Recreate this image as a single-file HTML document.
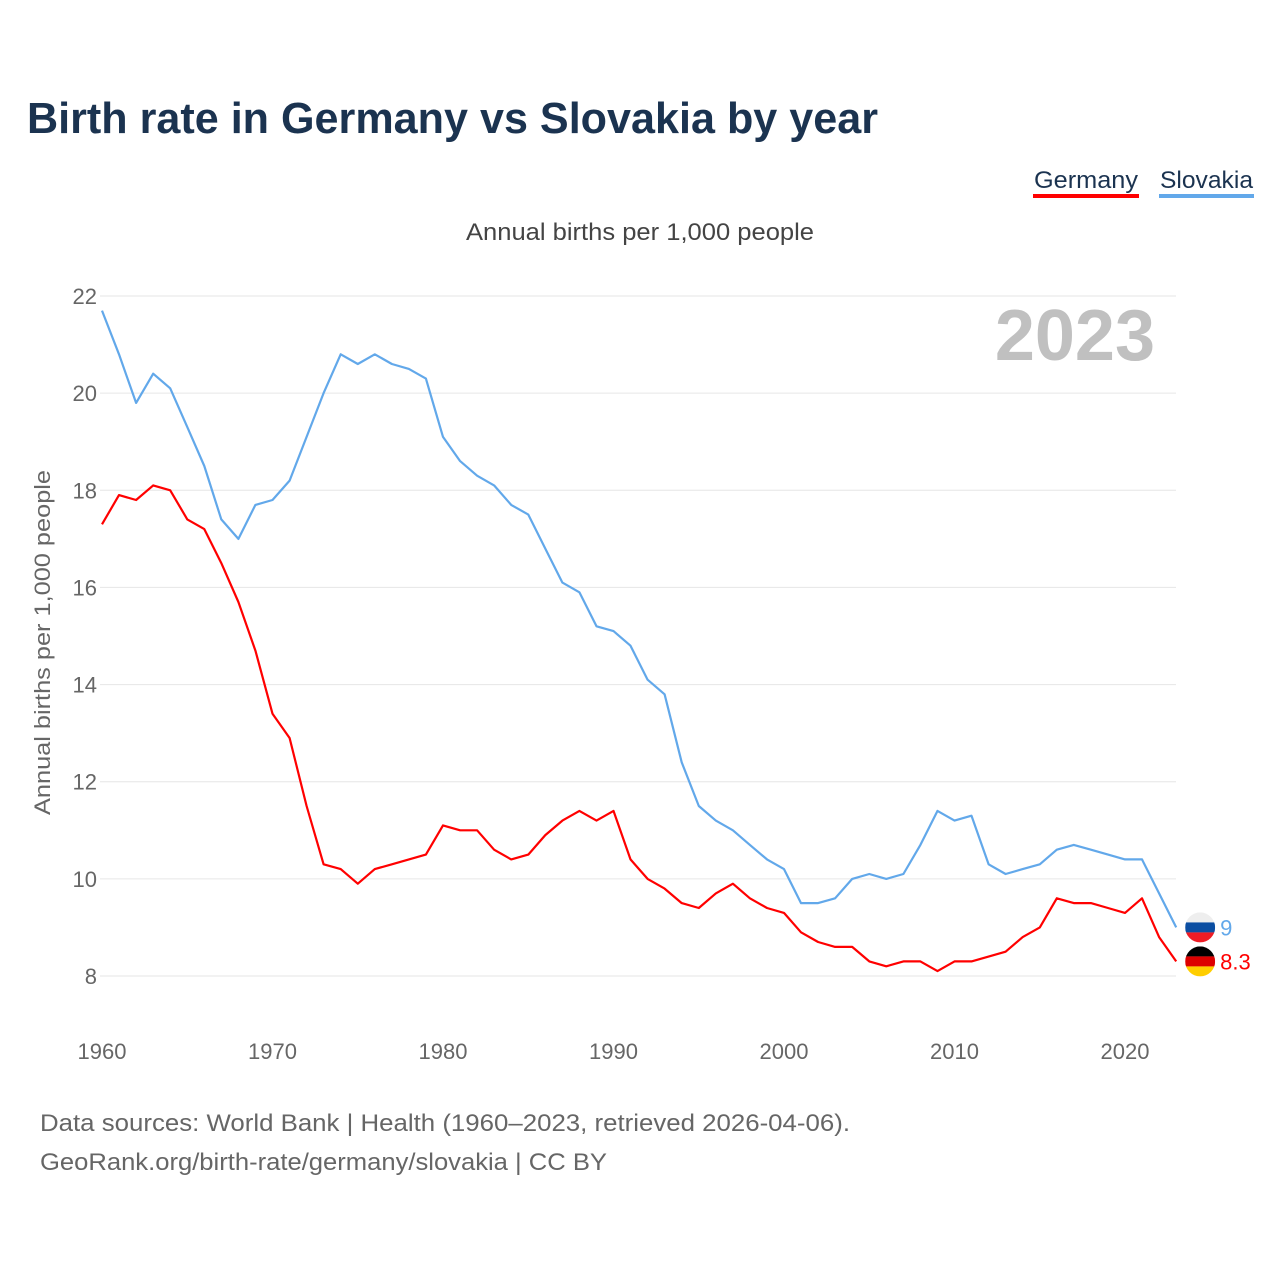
<!DOCTYPE html>
<html><head><meta charset="utf-8">
<style>
body{margin:0;background:#fff;width:1280px;height:1280px;overflow:hidden;font-family:"Liberation Sans",sans-serif}
</style></head>
<body>
<svg id="chart" width="1280" height="1280" xmlns="http://www.w3.org/2000/svg">
<text x="27" y="133" font-size="44" font-weight="bold" fill="#1b3350" textLength="851" lengthAdjust="spacingAndGlyphs">Birth rate in Germany vs Slovakia by year</text>
<g>
<text x="1034" y="188" font-size="24" fill="#1b3350" textLength="104" lengthAdjust="spacingAndGlyphs">Germany</text>
<rect x="1033" y="194" width="106" height="4" fill="#ff0000"/></g>
<g>
<text x="1160" y="188" font-size="24" fill="#1b3350" textLength="93" lengthAdjust="spacingAndGlyphs">Slovakia</text>
<rect x="1159" y="194" width="95" height="4" fill="#62a8ea"/></g>
<text x="466" y="240" font-size="24" fill="#444" textLength="348" lengthAdjust="spacingAndGlyphs">Annual births per 1,000 people</text>
<text x="1155" y="360" font-size="72" font-weight="bold" fill="#c0c0c0" text-anchor="end">2023</text>
<text transform="translate(50,815) rotate(-90)" font-size="22" fill="#666" textLength="345" lengthAdjust="spacingAndGlyphs">Annual births per 1,000 people</text>
<g id="grid"></g><g id="lines"></g><g id="labels"></g>
<text x="40" y="1131" font-size="24" fill="#666" textLength="810" lengthAdjust="spacingAndGlyphs">Data sources: World Bank | Health (1960–2023, retrieved 2026-04-06).</text>
<text x="40" y="1170" font-size="24" fill="#666" textLength="567" lengthAdjust="spacingAndGlyphs">GeoRank.org/birth-rate/germany/slovakia | CC BY</text>
</svg>
<script>
const startYear = 1960;
const germany = [17.3,17.9,17.8,18.1,18.0,17.4,17.2,16.5,15.7,14.7,13.4,12.9,11.5,10.3,10.2,9.9,10.2,10.3,10.4,10.5,11.1,11.0,11.0,10.6,10.4,10.5,10.9,11.2,11.4,11.2,11.4,10.4,10.0,9.8,9.5,9.4,9.7,9.9,9.6,9.4,9.3,8.9,8.7,8.6,8.6,8.3,8.2,8.3,8.3,8.1,8.3,8.3,8.4,8.5,8.8,9.0,9.6,9.5,9.5,9.4,9.3,9.6,8.8,8.3];
const slovakia = [21.7,20.8,19.8,20.4,20.1,19.3,18.5,17.4,17.0,17.7,17.8,18.2,19.1,20.0,20.8,20.6,20.8,20.6,20.5,20.3,19.1,18.6,18.3,18.1,17.7,17.5,16.8,16.1,15.9,15.2,15.1,14.8,14.1,13.8,12.4,11.5,11.2,11.0,10.7,10.4,10.2,9.5,9.5,9.6,10.0,10.1,10.0,10.1,10.7,11.4,11.2,11.3,10.3,10.1,10.2,10.3,10.6,10.7,10.6,10.5,10.4,10.4,9.7,9.0];
const yTicks = [8,10,12,14,16,18,20,22];
const xTicks = [1960,1970,1980,1990,2000,2010,2020];
const NS='http://www.w3.org/2000/svg';
const xs = y => 102 + (y-1960)*1023/60;
const ys = v => 976 - (v-8)*680/14;
function mk(t,a,p){const e=document.createElementNS(NS,t);for(const k in a)e.setAttribute(k,a[k]);p.appendChild(e);return e;}
const grid=document.getElementById('grid'), lines=document.getElementById('lines'), labels=document.getElementById('labels');
yTicks.forEach(v=>{
 const l=mk('line',{x1:100,x2:1176,y1:ys(v),y2:ys(v),stroke:'#e6e6e6','stroke-width':1},grid);
 
 
 const t=mk('text',{x:97,y:ys(v)+8,'font-size':22,fill:'#666','text-anchor':'end'},grid);t.textContent=v;
 
 
});
xTicks.forEach(y=>{
 const t=mk('text',{x:xs(y),y:1059,'font-size':22,fill:'#666','text-anchor':'middle'},grid);t.textContent=y;
 
 
});
function series(arr,color,name){
 const pts=arr.map((v,i)=>xs(startYear+i).toFixed(1)+','+ys(v).toFixed(1)).join(' ');
 const p=mk('polyline',{points:pts,fill:'none',stroke:color,'stroke-width':2.2,'stroke-linejoin':'round'},lines);
 
 
}
series(slovakia,'#62a8ea','slovakia');
series(germany,'#ff0000','germany');
const lastX=xs(startYear+germany.length-1)+24;
const sv=slovakia[slovakia.length-1], gv=germany[germany.length-1];
const fs=mk('g',{},labels);


const cp1=mk('clipPath',{id:'c1'},fs);mk('circle',{cx:lastX,cy:ys(sv),r:15},cp1);
const g1=mk('g',{'clip-path':'url(#c1)'},fs);
mk('rect',{x:lastX-15,y:ys(sv)-15,width:30,height:10,fill:'#eee'},g1);
mk('rect',{x:lastX-15,y:ys(sv)-5,width:30,height:10,fill:'#0b4ea2'},g1);
mk('rect',{x:lastX-15,y:ys(sv)+5,width:30,height:10,fill:'#ee1c25'},g1);
const fg=mk('g',{},labels);


const cp=mk('clipPath',{id:'c2'},fg);mk('circle',{cx:lastX,cy:ys(gv),r:15},cp);
const g2=mk('g',{'clip-path':'url(#c2)'},fg);
mk('rect',{x:lastX-15,y:ys(gv)-15,width:30,height:10,fill:'#000'},g2);
mk('rect',{x:lastX-15,y:ys(gv)-5,width:30,height:10,fill:'#dd0000'},g2);
mk('rect',{x:lastX-15,y:ys(gv)+5,width:30,height:10,fill:'#ffce00'},g2);
const t1=mk('text',{x:lastX+20,y:ys(sv)+8,'font-size':22,fill:'#62a8ea'},labels);t1.textContent=sv;


const t2=mk('text',{x:lastX+20,y:ys(gv)+8,'font-size':22,fill:'#ff0000'},labels);t2.textContent=gv;


</script>
</body></html>
